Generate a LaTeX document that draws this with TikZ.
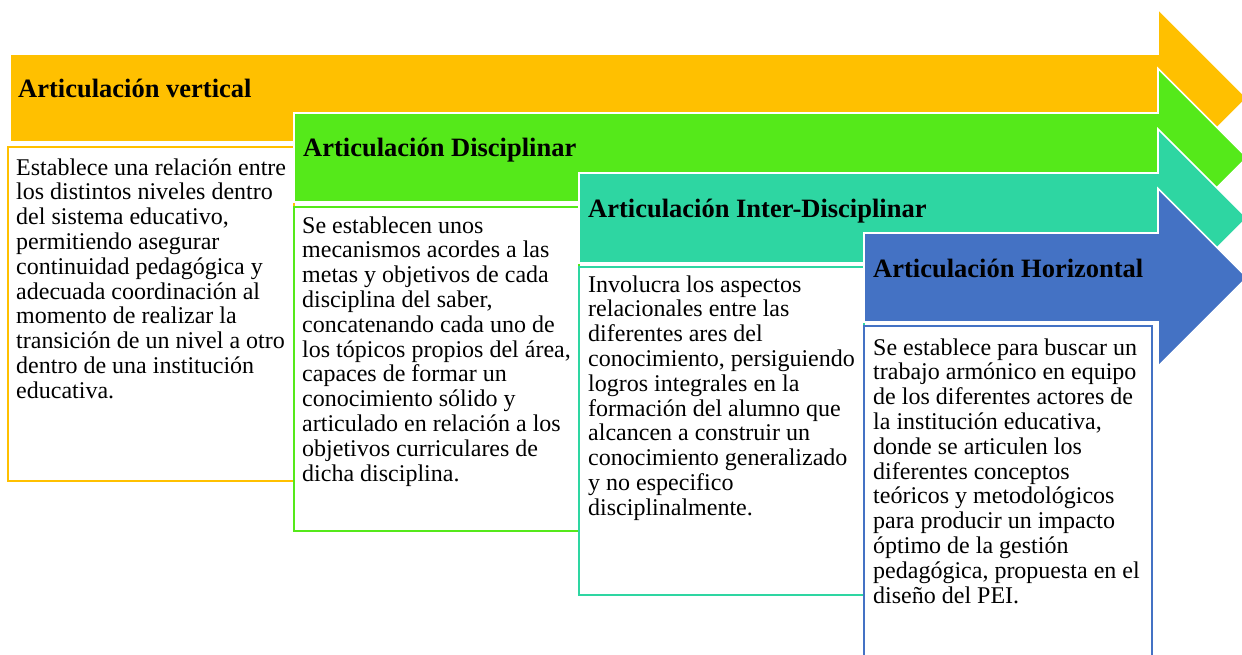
\documentclass[tikz,border=0pt]{standalone}
\usepackage{fontspec}
\setmainfont{Liberation Serif}
\definecolor{cOrange}{HTML}{FFC000}
\definecolor{cGreen}{HTML}{55E91A}
\definecolor{cTeal}{HTML}{2ED6A2}
\definecolor{cBlue}{HTML}{4472C4}
\tikzset{
  arrowshape/.style={draw=white, line width=1.6pt, line join=miter},
  infobox/.style={fill=white, line width=2.4pt},
  titletext/.style={anchor=base west, inner sep=0pt, font=\fontsize{26.5}{30}\selectfont\bfseries},
  bodytext/.style={anchor=base west, inner sep=0pt, font=\fontsize{24}{24.8}\selectfont}
}
\newcommand\myArrow[4]{% x0, top, bottom, colour
  \path[arrowshape, fill=#4] (#1,#2) -- (1158,#2) -- (1158,{(#2+#3)/2-89}) -- (1247,{(#2+#3)/2}) -- (1158,{(#2+#3)/2+89}) -- (1158,#3) -- (#1,#3) -- cycle;
}
\begin{document}
\begin{tikzpicture}[x=1pt,y=-1pt]
\useasboundingbox (0,0) rectangle (1242,654);
\clip (0,0) rectangle (1242,654);
% arrow 1
\myArrow{10}{54}{142}{cOrange}
\node[titletext] (t1) at (18,97) {Articulación vertical};
\draw[infobox, draw=cOrange] (8,147) rectangle (294,481);
\node[bodytext] (b1) at (16,175) {\parbox[t]{290pt}{\raggedright
Establece una relación entre\\
los distintos niveles dentro\\
del sistema educativo,\\
permitiendo asegurar\\
continuidad pedagógica y\\
adecuada coordinación al\\
momento de realizar la\\
transición de un nivel a otro\\
dentro de una institución\\
educativa.}};
% arrow 2
\myArrow{294}{113}{202}{cGreen}
\node[titletext] (t2) at (303,156) {Articulación Disciplinar};
\draw[infobox, draw=cGreen] (294,207) rectangle (579,531);
\node[bodytext] (b2) at (302,233) {\parbox[t]{290pt}{\raggedright
Se establecen unos\\
mecanismos acordes a las\\
metas y objetivos de cada\\
disciplina del saber,\\
concatenando cada uno de\\
los tópicos propios del área,\\
capaces de formar un\\
conocimiento sólido y\\
articulado en relación a los\\
objetivos curriculares de\\
dicha disciplina.}};
% arrow 3
\myArrow{579}{173}{263}{cTeal}
\node[titletext] (t3) at (588,217) {Articulación Inter-Disciplinar};
\draw[infobox, draw=cTeal] (579,267) rectangle (864,595);
\node[bodytext] (b3) at (588,292) {\parbox[t]{290pt}{\raggedright
Involucra los aspectos\\
relacionales entre las\\
diferentes ares del\\
conocimiento, persiguiendo\\
logros integrales en la\\
formación del alumno que\\
alcancen a construir un\\
conocimiento generalizado\\
y no especifico\\
disciplinalmente.}};
% arrow 4
\myArrow{864}{233}{322}{cBlue}
\node[titletext] (t4) at (873,277) {Articulación Horizontal};
\draw[infobox, draw=cBlue] (864,326) rectangle (1152,662);
\node[bodytext] (b4) at (873,355) {\parbox[t]{290pt}{\raggedright
Se establece para buscar un\\
trabajo armónico en equipo\\
de los diferentes actores de\\
la institución educativa,\\
donde se articulen los\\
diferentes conceptos\\
teóricos y metodológicos\\
para producir un impacto\\
óptimo de la gestión\\
pedagógica, propuesta en el\\
diseño del PEI.}};
\end{tikzpicture}
\end{document}
